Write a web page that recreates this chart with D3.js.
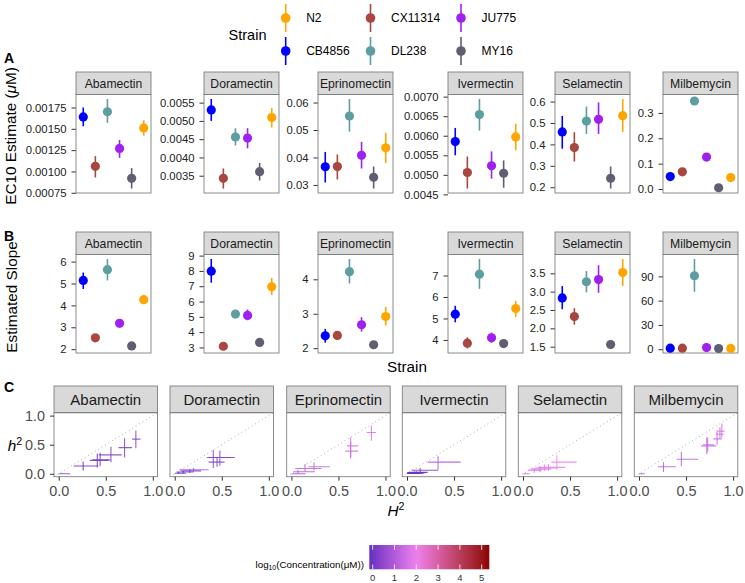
<!DOCTYPE html>
<meta charset="utf-8">
<style>
body { margin: 0; background: #fff; }
svg text { font-family: "Liberation Sans", Arial, sans-serif; }
</style>
<body>
<script src="https://d3js.org/d3.v7.min.js"></script>
<script>
// ---- data -------------------------------------------------------------
const strains = ["CB4856", "CX11314", "DL238", "JU775", "MY16", "N2"];
const strainColors = ["#0000ff", "#a8463f", "#5f9ea0", "#a020f0", "#5e5f72", "#ffa500"];
const legendStrains = ["N2", "CB4856", "CX11314", "DL238", "JU775", "MY16"];
const drugs = ["Abamectin", "Doramectin", "Eprinomectin", "Ivermectin", "Selamectin", "Milbemycin"];

// EC10 estimate [est, lo, hi] per strain (order of `strains`)
const ec10Abamectin = [[0.00164,0.00153,0.00175],[0.00106,0.00093,0.00118],[0.00170,0.00157,0.00185],[0.00127,0.00116,0.00137],[0.00092,0.00080,0.00104],[0.00151,0.00142,0.00160]];
const ec10Doramectin = [[0.00530,0.00500,0.00560],[0.00343,0.00315,0.00370],[0.00456,0.00433,0.00480],[0.00453,0.00425,0.00480],[0.00361,0.00337,0.00385],[0.00509,0.00482,0.00535]];
const ec10Eprinomectin = [[0.0366,0.0309,0.0420],[0.0367,0.0320,0.0411],[0.0551,0.0494,0.0613],[0.0408,0.0360,0.0457],[0.0328,0.0287,0.0367],[0.0435,0.0380,0.0490]];
const ec10Ivermectin = [[0.00585,0.00550,0.00620],[0.00506,0.00465,0.00547],[0.00654,0.00613,0.00694],[0.00523,0.00490,0.00560],[0.00504,0.00467,0.00537],[0.00597,0.00563,0.00631]];
const ec10Selamectin = [[0.458,0.380,0.533],[0.385,0.320,0.457],[0.509,0.449,0.577],[0.517,0.449,0.596],[0.242,0.194,0.297],[0.534,0.458,0.612]];
const ec10Milbemycin = [[0.049,0.043,0.055],[0.068,0.062,0.074],[0.347,0.338,0.355],[0.126,0.120,0.132],[0.005,0.002,0.008],[0.045,0.039,0.051]];

// slope estimate [est, lo, hi]
const slopeAbamectin = [[5.14,4.75,5.50],[2.52,2.42,2.62],[5.63,5.14,6.12],[3.18,3.05,3.32],[2.15,2.03,2.27],[4.26,4.06,4.46]];
const slopeDoramectin = [[7.98,7.23,8.78],[3.08,2.93,3.22],[5.18,5.00,5.36],[5.09,4.78,5.48],[3.33,3.15,3.50],[6.96,6.42,7.55]];
const slopeEprinomectin = [[2.36,2.16,2.56],[2.37,2.25,2.49],[4.22,3.88,4.59],[2.68,2.48,2.90],[2.10,1.99,2.20],[2.92,2.66,3.20]];
const slopeIvermectin = [[5.20,4.82,5.59],[3.85,3.60,4.12],[7.06,6.38,7.77],[4.10,3.88,4.34],[3.83,3.70,3.96],[5.46,5.07,5.82]];
const slopeSelamectin = [[2.83,2.52,3.15],[2.32,2.10,2.55],[3.27,2.98,3.56],[3.33,2.97,3.72],[1.56,1.45,1.67],[3.52,3.15,3.89]];
const slopeMilbemycin = [[1.3,0.9,1.7],[1.3,0.9,1.7],[90.8,71.0,111.5],[2.0,1.6,2.4],[0.9,0.85,1.0],[1.0,0.9,1.1]];

// y tick labels
const ec10Ticks = [
  ["0.00075","0.00100","0.00125","0.00150","0.00175"],
  ["0.0035","0.0040","0.0045","0.0050","0.0055"],
  ["0.03","0.04","0.05","0.06"],
  ["0.0045","0.0050","0.0055","0.0060","0.0065","0.0070"],
  ["0.2","0.3","0.4","0.5","0.6"],
  ["0.0","0.1","0.2","0.3"]
];
const slopeTicks = [
  ["2","3","4","5","6"],
  ["3","4","5","6","7","8","9"],
  ["2","3","4"],
  ["4","5","6","7"],
  ["1.5","2.0","2.5","3.0","3.5"],
  ["0","30","60","90"]
];

// heritability crosses: [H2, H2lo, H2hi, h2, h2lo, h2hi, log10 conc]
const herAbamectin = [[0.04,0.00,0.12,0.00,0.00,0.01,0.4],[0.26,0.16,0.42,0.135,0.055,0.21,-0.1],[0.41,0.33,0.53,0.23,0.11,0.35,0.0],[0.44,0.36,0.55,0.24,0.13,0.36,0.1],[0.555,0.425,0.67,0.325,0.20,0.465,0.2],[0.70,0.635,0.78,0.45,0.28,0.61,0.3],[0.82,0.78,0.87,0.595,0.44,0.745,0.4]];
const herDoramectin = [[0.04,0.00,0.12,0.01,0.00,0.03,-0.1],[0.09,0.02,0.20,0.03,0.01,0.05,0.0],[0.16,0.07,0.28,0.05,0.02,0.08,0.1],[0.20,0.05,0.36,0.07,0.03,0.10,0.9],[0.41,0.34,0.64,0.28,0.10,0.41,0.3],[0.48,0.36,0.60,0.28,0.14,0.40,0.4],[0.45,0.36,0.53,0.20,0.12,0.28,0.2]];
const herEprinomectin = [[0.05,0.00,0.15,0.00,0.00,0.01,0.8],[0.07,0.02,0.25,0.035,0.01,0.06,1.0],[0.145,0.04,0.32,0.09,0.04,0.17,1.2],[0.24,0.18,0.41,0.12,0.06,0.20,1.3],[0.63,0.59,0.71,0.48,0.29,0.63,1.5],[0.63,0.57,0.71,0.39,0.26,0.55,1.55],[0.85,0.80,0.90,0.71,0.57,0.83,1.6]];
const herIvermectin = [[0.03,0.00,0.14,0.005,0.00,0.015,-0.15],[0.05,0.00,0.17,0.01,0.00,0.025,-0.15],[0.06,0.00,0.18,0.015,0.00,0.03,-0.1],[0.08,0.01,0.20,0.02,0.00,0.04,-0.05],[0.10,0.02,0.22,0.025,0.01,0.045,0.0],[0.14,0.05,0.33,0.06,0.02,0.10,0.2],[0.33,0.22,0.57,0.20,0.07,0.30,1.0]];
const herSelamectin = [[0.02,0.00,0.07,0.00,0.00,0.01,1.5],[0.12,0.05,0.20,0.06,0.02,0.10,1.6],[0.18,0.08,0.30,0.08,0.03,0.13,1.7],[0.23,0.13,0.36,0.10,0.05,0.16,1.8],[0.27,0.16,0.45,0.11,0.05,0.17,1.9],[0.36,0.30,0.57,0.20,0.07,0.32,2.0]];
const herMilbemycin = [[0.03,0.00,0.06,0.00,0.00,0.01,1.0],[0.26,0.20,0.39,0.12,0.03,0.20,1.1],[0.45,0.40,0.63,0.25,0.13,0.38,1.2],[0.72,0.66,0.82,0.48,0.34,0.63,1.3],[0.73,0.68,0.80,0.50,0.38,0.62,1.35],[0.83,0.79,0.88,0.60,0.50,0.75,1.4],[0.86,0.82,0.90,0.68,0.60,0.80,1.45],[0.88,0.84,0.91,0.73,0.62,0.86,1.5]];

const herTicks = ["0.0", "0.5", "1.0"];
const concRange = [-0.156, 5.35];
const concTicks = [0, 1, 2, 3, 4, 5];

// ---- setup ------------------------------------------------------------
const ec10Data = [ec10Abamectin, ec10Doramectin, ec10Eprinomectin, ec10Ivermectin, ec10Selamectin, ec10Milbemycin];
const slopeData = [slopeAbamectin, slopeDoramectin, slopeEprinomectin, slopeIvermectin, slopeSelamectin, slopeMilbemycin];
const herData = [herAbamectin, herDoramectin, herEprinomectin, herIvermectin, herSelamectin, herMilbemycin];

const FONT = '"Liberation Sans", Arial, sans-serif';
const svg = d3.select("body").append("svg").attr("width", 745).attr("height", 583);

const strainColor = d3.scaleOrdinal().domain(strains).range(strainColors);
const concColor = d3.scaleLinear()
  .domain([concRange[0], 2, concRange[1]])
  .range(["#6530c0", "#ee82ee", "#8b0000"])
  .interpolate(d3.interpolateLab);

// panel left edges (rows A/B and row C)
const abLeft = [76, 204, 318, 448, 555, 663];
const cLeft = [54, 170, 286.7, 402.3, 518.3, 634.3];

function pointPanel(drug, rows, ticks, left, top) {
  const pw = 75, sh = 22.5, ph = 98.5;
  const g = svg.append("g");
  const y0 = top + sh, y1 = y0 + ph;

  g.append("rect").attr("x", left).attr("y", top).attr("width", pw).attr("height", sh)
    .attr("fill", "#d9d9d9").attr("stroke", "#7f7f7f").attr("stroke-width", 0.9);
  g.append("text").attr("x", left + pw / 2).attr("y", top + sh / 2).attr("dy", "0.35em")
    .attr("text-anchor", "middle").attr("font-size", 12.2).attr("fill", "#1a1a1a").text(drug);

  const lo = d3.min(rows, r => r[1]), hi = d3.max(rows, r => r[2]), pad = (hi - lo) * 0.05;
  const y = d3.scaleLinear().domain([lo - pad, hi + pad]).range([y1, y0]);
  const x = d3.scalePoint().domain(strains).range([left, left + pw]).padding(0.6);

  const ag = g.append("g").attr("transform", `translate(${left},0)`)
    .call(d3.axisLeft(y).tickValues(ticks.map(Number)).tickFormat((d, i) => ticks[i]).tickSize(4.5).tickPadding(5));
  ag.attr("font-family", FONT).attr("font-size", 11.3);
  ag.select(".domain").remove();
  ag.selectAll("line").attr("stroke", "#333");
  ag.selectAll("text").attr("fill", "#222");

  g.append("rect").attr("x", left).attr("y", y0).attr("width", pw).attr("height", ph)
    .attr("fill", "none").attr("stroke", "#7f7f7f").attr("stroke-width", 0.9);

  const pts = g.selectAll("g.pt").data(rows).join("g").attr("class", "pt");
  pts.append("line")
    .attr("x1", (d, i) => x(strains[i])).attr("x2", (d, i) => x(strains[i]))
    .attr("y1", d => y(d[1])).attr("y2", d => y(d[2]))
    .attr("stroke", (d, i) => strainColor(strains[i])).attr("stroke-width", 1.6);
  pts.append("circle")
    .attr("cx", (d, i) => x(strains[i])).attr("cy", d => y(d[0])).attr("r", 4.6)
    .attr("fill", (d, i) => strainColor(strains[i]));
}

drugs.forEach((d, i) => pointPanel(d, ec10Data[i], ec10Ticks[i], abLeft[i], 72));
drugs.forEach((d, i) => pointPanel(d, slopeData[i], slopeTicks[i], abLeft[i], 232));

function crossPanel(drug, rows, left, idx) {
  const pw = 103.5, top = 386, sh = 26.7, ph = 64;
  const y0 = top + sh, y1 = y0 + ph;
  const g = svg.append("g");

  g.append("rect").attr("x", left).attr("y", top).attr("width", pw).attr("height", sh)
    .attr("fill", "#d9d9d9").attr("stroke", "#7f7f7f").attr("stroke-width", 0.9);
  g.append("text").attr("x", left + pw / 2).attr("y", top + sh / 2).attr("dy", "0.35em")
    .attr("text-anchor", "middle").attr("font-size", 15).attr("fill", "#1a1a1a").text(drug);

  const x = d3.scaleLinear().domain([-0.05, 1.05]).range([left, left + pw]);
  const y = d3.scaleLinear().domain([-0.05, 1.05]).range([y1, y0]);

  const clipId = "clip" + idx;
  g.append("clipPath").attr("id", clipId).append("rect")
    .attr("x", left).attr("y", y0).attr("width", pw).attr("height", ph);
  const inner = g.append("g").attr("clip-path", `url(#${clipId})`);

  inner.append("line")
    .attr("x1", x(-0.05)).attr("y1", y(-0.05)).attr("x2", x(1.05)).attr("y2", y(1.05))
    .attr("stroke", "#aaa").attr("stroke-width", 1).attr("stroke-dasharray", "1,3");

  const cr = inner.selectAll("g.cr").data(rows).join("g").attr("class", "cr")
    .attr("stroke", d => concColor(d[6])).attr("stroke-opacity", 0.85).attr("stroke-width", 1.1);
  cr.append("line").attr("x1", d => x(d[1])).attr("x2", d => x(d[2]))
    .attr("y1", d => y(d[3])).attr("y2", d => y(d[3]));
  cr.append("line").attr("x1", d => x(d[0])).attr("x2", d => x(d[0]))
    .attr("y1", d => y(d[4])).attr("y2", d => y(d[5]));

  g.append("rect").attr("x", left).attr("y", y0).attr("width", pw).attr("height", ph)
    .attr("fill", "none").attr("stroke", "#7f7f7f").attr("stroke-width", 0.9);

  const xa = g.append("g").attr("transform", `translate(0,${y1})`)
    .call(d3.axisBottom(x).tickValues(herTicks.map(Number)).tickFormat((d, i) => herTicks[i]).tickSize(4).tickPadding(5));
  xa.attr("font-family", FONT).attr("font-size", 14.4);
  xa.select(".domain").remove();
  xa.selectAll("line").attr("stroke", "#333");
  xa.selectAll("text").attr("fill", "#4d4d4d");

  if (idx === 0) {
    const ya = g.append("g").attr("transform", `translate(${left},0)`)
      .call(d3.axisLeft(y).tickValues(herTicks.map(Number)).tickFormat((d, i) => herTicks[i]).tickSize(4).tickPadding(5));
    ya.attr("font-family", FONT).attr("font-size", 14.4);
    ya.select(".domain").remove();
    ya.selectAll("line").attr("stroke", "#333");
    ya.selectAll("text").attr("fill", "#4d4d4d");
  }
}

drugs.forEach((d, i) => crossPanel(d, herData[i], cLeft[i], i));

// ---- titles -----------------------------------------------------------
function label(x, y, txt, size, opts = {}) {
  const t = svg.append("text").attr("x", x).attr("y", y).attr("dy", "0.35em")
    .attr("font-size", size).attr("text-anchor", opts.anchor || "start").attr("fill", "#000");
  if (opts.bold) t.attr("font-weight", "bold");
  if (opts.rotate) t.attr("transform", `rotate(-90,${x},${y})`);
  t.text(txt);
  return t;
}

label(4, 58, "A", 14, { bold: true });
label(4, 236, "B", 14, { bold: true });
label(4, 387, "C", 14, { bold: true });

const ecT = svg.append("text").attr("x", 11).attr("y", 136).attr("dy", "0.35em")
  .attr("font-size", 15.3).attr("text-anchor", "middle")
  .attr("transform", "rotate(-90,11,136)");
ecT.append("tspan").text("EC10 Estimate (");
ecT.append("tspan").attr("font-style", "italic").text("\u03bc");
ecT.append("tspan").text("M)");

label(12, 297, "Estimated Slope", 15.3, { anchor: "middle", rotate: true });
label(407, 367, "Strain", 15.3, { anchor: "middle" });

function supLabel(x, y, base, sup, size) {
  const t = svg.append("text").attr("x", x).attr("y", y).attr("dy", "0.35em")
    .attr("font-size", size).attr("text-anchor", "middle");
  t.append("tspan").attr("font-style", "italic").text(base);
  t.append("tspan").attr("font-size", size * 0.7).attr("dy", -size * 0.4).text(sup);
}
supLabel(15, 446, "h", "2", 15.3);
supLabel(396, 511, "H", "2", 15.3);

// ---- strain legend ----------------------------------------------------
label(228.6, 35, "Strain", 14.5);
const legCols = [285.7, 370.5, 461], legRows = [18, 51];
legendStrains.forEach((s, i) => {
  const cx = legCols[Math.floor(i / 2)], cy = legRows[i % 2];
  svg.append("line").attr("x1", cx).attr("x2", cx).attr("y1", cy - 14).attr("y2", cy + 14)
    .attr("stroke", strainColor(s)).attr("stroke-width", 1.6);
  svg.append("circle").attr("cx", cx).attr("cy", cy).attr("r", 4.8).attr("fill", strainColor(s));
  label(cx + 20.5, cy, s, 12);
});

// ---- colour bar -------------------------------------------------------
const bx = d3.scaleLinear().domain(concRange).range([369.3, 489.3]);
const grad = svg.append("defs").append("linearGradient").attr("id", "cbar");
d3.range(0, 1.0001, 0.05).forEach(t => {
  const v = concRange[0] + t * (concRange[1] - concRange[0]);
  grad.append("stop").attr("offset", t).attr("stop-color", concColor(v));
});
const barTop = 545, barH = 24.3;
svg.append("rect").attr("x", bx(concRange[0])).attr("y", barTop)
  .attr("width", bx(concRange[1]) - bx(concRange[0])).attr("height", barH).attr("fill", "url(#cbar)");
concTicks.forEach(v => {
  svg.append("line").attr("x1", bx(v)).attr("x2", bx(v)).attr("y1", barTop).attr("y2", barTop + 4.8)
    .attr("stroke", "#fff").attr("stroke-width", 0.8);
  svg.append("line").attr("x1", bx(v)).attr("x2", bx(v)).attr("y1", barTop + barH - 4.8).attr("y2", barTop + barH)
    .attr("stroke", "#fff").attr("stroke-width", 0.8);
  label(bx(v), 578, String(v), 9.5, { anchor: "middle" }).attr("fill", "#333");
});
const cl = svg.append("text").attr("x", 364).attr("y", 567.5).attr("font-size", 9.8).attr("text-anchor", "end");
cl.append("tspan").text("log");
cl.append("tspan").attr("font-size", 6.8).attr("dy", 2.5).text("10");
cl.append("tspan").attr("dy", -2.5).text("(Concentration(\u03bcM))");
</script>
</body>
